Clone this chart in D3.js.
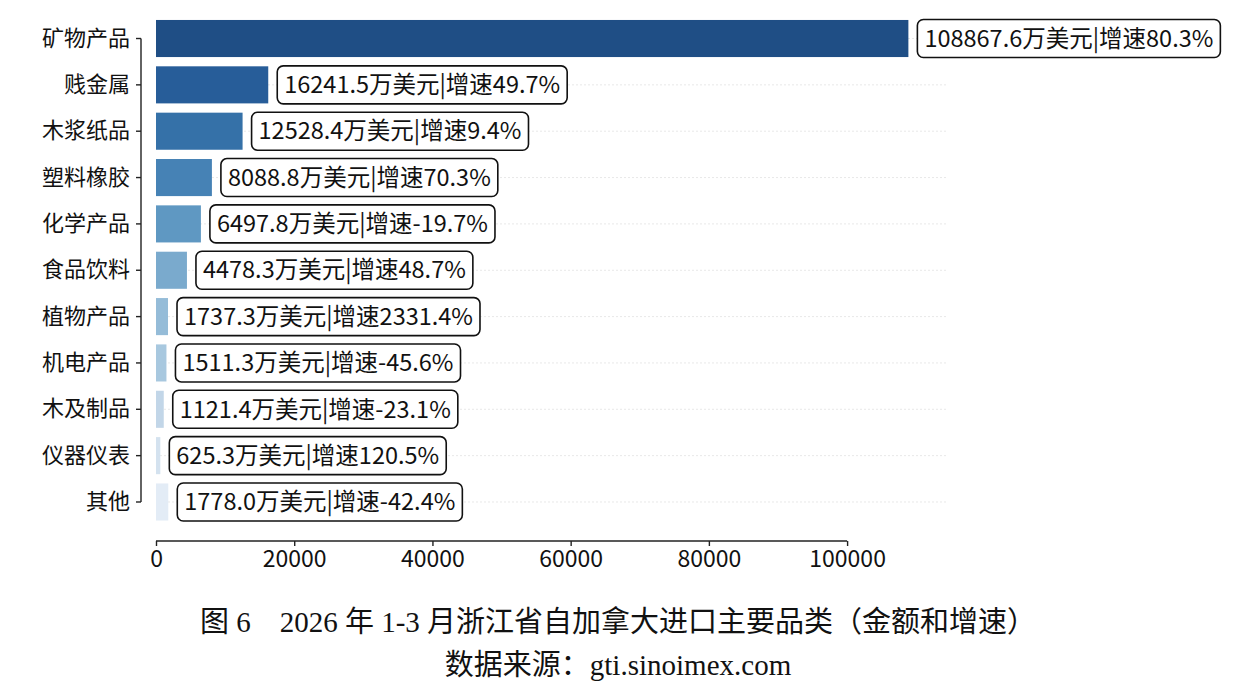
<!DOCTYPE html>
<html>
<head>
<meta charset="utf-8">
<script src="https://d3js.org/d3.v7.min.js"></script>
<style>
  body { margin: 0; background: #fff; }
</style>
</head>
<body>
<script>
// categories, top to bottom
var categories = ["矿物产品", "贱金属", "木浆纸品", "塑料橡胶", "化学产品", "食品饮料", "植物产品", "机电产品", "木及制品", "仪器仪表", "其他"];
var amounts = [108867.6, 16241.5, 12528.4, 8088.8, 6497.8, 4478.3, 1737.3, 1511.3, 1121.4, 625.3, 1778.0];
var growth = ["80.3", "49.7", "9.4", "70.3", "-19.7", "48.7", "2331.4", "-45.6", "-23.1", "120.5", "-42.4"];
var barColors = ["#1f4e85", "#275d99", "#3571a8", "#4682b5", "#5f98c2", "#7aaacd", "#95bcd8", "#a8c8df", "#c2d6e8", "#d4e2ef", "#e3ecf6"];
var xTicks = [0, 20000, 40000, 60000, 80000, 100000];

var width = 1236, height = 694;
var sansFont = "'Noto Sans CJK SC', 'Noto Sans', sans-serif";
var serifFont = "'Liberation Serif', 'Noto Sans CJK SC', serif";

var svg = d3.select("body").append("svg").attr("width", width).attr("height", height);

var x = d3.scaleLinear().domain([0, d3.max(amounts) * 1.05]).range([156, 946]);
var y = d3.scaleBand().domain(categories).range([10.7, 529.8]).padding(0.2);

// faint dotted grid lines through bar centres
svg.selectAll("line.grid").data(categories).enter().append("line")
  .attr("class", "grid")
  .attr("x1", x(0)).attr("x2", x.range()[1])
  .attr("y1", function(d) { return y(d) + y.bandwidth() / 2; })
  .attr("y2", function(d) { return y(d) + y.bandwidth() / 2; })
  .attr("stroke", "#e8e8e8").attr("stroke-width", 1).attr("stroke-dasharray", "2,2");

// bars
svg.selectAll("rect.bar").data(categories).enter().append("rect")
  .attr("class", "bar")
  .attr("x", x(0))
  .attr("y", function(d) { return y(d); })
  .attr("width", function(d, i) { return x(amounts[i]) - x(0); })
  .attr("height", y.bandwidth())
  .attr("fill", function(d, i) { return barColors[i]; });

// value labels in rounded boxes
var labels = svg.selectAll("g.lbl").data(categories).enter().append("g").attr("class", "lbl");
labels.append("text")
  .attr("x", function(d, i) { return x(amounts[i]) + 16; })
  .attr("y", function(d) { return y(d) + y.bandwidth() / 2; })
  .attr("dy", "0.35em")
  .attr("font-family", sansFont).attr("font-size", 23.5).attr("fill", "#111")
  .text(function(d, i) { return amounts[i].toFixed(1) + "万美元|增速" + growth[i] + "%"; });
labels.each(function() {
  var g = d3.select(this);
  var bb = g.select("text").node().getBBox();
  g.insert("rect", "text")
    .attr("x", bb.x - 7).attr("y", y(g.datum()) + y.bandwidth() / 2 - 19)
    .attr("width", bb.width + 14).attr("height", 38)
    .attr("rx", 6).attr("ry", 6)
    .attr("fill", "#fff").attr("stroke", "#111").attr("stroke-width", 1.6);
});

// left axis (spine limited to the ticks)
var yAxis = svg.append("g").attr("transform", "translate(141,0)")
  .call(d3.axisLeft(y).tickSize(5).tickPadding(6));
yAxis.select(".domain").attr("d", "M0," + (y(categories[0]) + y.bandwidth() / 2) + "V" + (y(categories[categories.length - 1]) + y.bandwidth() / 2));
yAxis.selectAll("text").attr("font-family", sansFont).attr("font-size", 22).attr("fill", "#111");
yAxis.selectAll("line, path").attr("stroke", "#222").attr("stroke-width", 1.4);

// bottom axis (spine limited to the ticks)
var xAxis = svg.append("g").attr("transform", "translate(0,541)")
  .call(d3.axisBottom(x).tickValues(xTicks).tickFormat(d3.format("d")).tickSize(5).tickPadding(5));
xAxis.select(".domain").attr("d", "M" + x(0) + ",0H" + x(100000));
xAxis.selectAll("text").attr("font-family", sansFont).attr("font-size", 23).attr("fill", "#111");
xAxis.selectAll("line, path").attr("stroke", "#222").attr("stroke-width", 1.4);

// caption
svg.append("text").attr("x", 618).attr("y", 632).attr("text-anchor", "middle")
  .attr("font-family", serifFont).attr("font-size", 29).attr("fill", "#111")
  .text("图 6\u00a0\u00a0\u00a0\u00a02026 年 1-3 月浙江省自加拿大进口主要品类（金额和增速）");
svg.append("text").attr("x", 618).attr("y", 675).attr("text-anchor", "middle")
  .attr("font-family", serifFont).attr("font-size", 29).attr("fill", "#111")
  .text("数据来源：gti.sinoimex.com");
</script>
</body>
</html>
